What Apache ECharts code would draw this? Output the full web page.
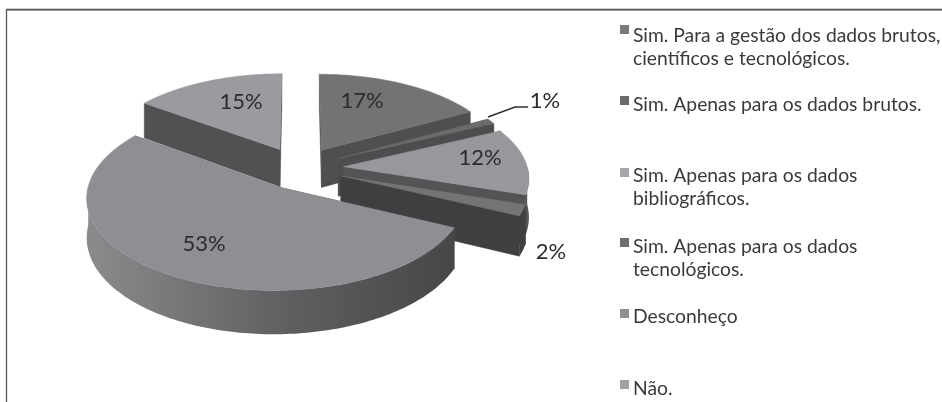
<!DOCTYPE html>
<html><head><meta charset="utf-8">
<style>html,body{margin:0;padding:0;background:#fff}#c{width:942px;height:402px}</style>
<script src="https://cdn.jsdelivr.net/npm/echarts@6/dist/echarts.min.js"></script>
</head><body><div id="c"></div>
<script>
const categories = [
  'Sim. Para a gestão dos dados brutos,\ncientíficos e tecnológicos.',
  'Sim. Apenas para os dados brutos.',
  'Sim. Apenas para os dados\nbibliográficos.',
  'Sim. Apenas para os dados\ntecnológicos.',
  'Desconheço',
  'Não.'
];
const values = [17, 1, 12, 2, 53, 15];
const topColors = ['#737376', '#6b6b6e', '#97989b', '#747477', '#8e8f92', '#9a9b9e'];
const wallColors = ['#4f4f51', '#4d4d4f', '#545456', '#3f3f41', '#505052', '#515153'];
const legendColors = ['#7a7a7d', '#6b6b6e', '#a5a6a9', '#6e6e71', '#8e8f92', '#a0a1a4'];
const legendIconTops = [25, 96, 168, 238, 309, 380];
const legendTextCenters = [36, 105, 176, 247, 317, 389];
const drawOrder = [5, 0, 1, 2, 3, 4];

// projection of the tilted pie
const P = {cx: 299.5, cy: 168, rx: 184, ry: 88, k: 0.11, depth: 38, explode: 0.24};
const total = values.reduce((a, b) => a + b, 0);
const starts = [];
values.reduce((acc, v, i) => { starts[i] = acc; return acc + v; }, 0);
const toAngle = v => v / total * 2 * Math.PI;

function project(X, Y, down) {
  const s = 1 / (1 - P.k * Y);
  return [P.cx + P.rx * X * s, P.cy + P.ry * Y * s + (down ? P.depth * s : 0)];
}
function sliceGeometry(i) {
  const a0 = toAngle(starts[i]), a1 = toAngle(starts[i] + values[i]), mid = (a0 + a1) / 2;
  const ox = Math.sin(mid) * P.explode, oy = -Math.cos(mid) * P.explode;
  const pt = (a, r, down) => project(ox + Math.sin(a) * r, oy - Math.cos(a) * r, down);
  return {a0, a1, mid, ox, oy, pt};
}
function arcPoints(g, from, to, down) {
  const n = Math.max(2, Math.ceil((to - from) / 0.02)), out = [];
  for (let j = 0; j <= n; j++) out.push(g.pt(from + (to - from) * j / n, 1, down));
  return out;
}
const labelPos = [[362, 101], [545, 101], [480, 158], [551, 252], [204, 244], [241, 102]];

function renderItemFor(i) {
  return function () {
    const g = sliceGeometry(i), children = [];
    const poly = (points, fill) => ({type: 'polygon', shape: {points}, style: {fill, stroke: fill, lineWidth: 0.5}});
    // radial walls
    [g.a0, g.a1].forEach(a => children.push(poly(
      [g.pt(a, 0, false), g.pt(a, 1, false), g.pt(a, 1, true), g.pt(a, 0, true)], wallColors[i])));
    // outer wall: only the part facing the viewer
    const from = Math.max(g.a0, Math.PI / 2), to = Math.min(g.a1, 3 * Math.PI / 2);
    if (to > from) {
      const up = arcPoints(g, from, to, false), low = arcPoints(g, from, to, true).reverse();
      const fill = i === 4
        ? {type: 'linear', x: 1, y: 0, x2: 0, y2: 0, colorStops: [{offset: 0, color: '#474749'}, {offset: 0.45, color: '#5f5f62'}, {offset: 1, color: '#8b8b8e'}]}
        : wallColors[i];
      children.push({type: 'polygon', shape: {points: up.concat(low)}, style: {fill}});
    }
    // top face
    children.push(poly([g.pt(0, 0, false)].concat(arcPoints(g, g.a0, g.a1, false)), topColors[i]));
    // value label
    children.push({type: 'text', x: labelPos[i][0], y: labelPos[i][1], z2: 100, style: {
      text: values[i] + '%', fill: '#2c2c2e', font: '22px Lato', align: 'center', verticalAlign: 'middle'}});
    if (i === 1) {
      children.push({type: 'polyline', z2: 100, shape: {points: [[488, 117], [515, 107], [528, 107]]},
        style: {stroke: '#303032', lineWidth: 1.6, fill: 'none'}});
    }
    return {type: 'group', children};
  };
}

const series = drawOrder.map(i => ({
  name: categories[i],
  type: 'custom',
  coordinateSystem: 'none',
  silent: true,
  z: 2,
  data: [values[i]],
  renderItem: renderItemFor(i)
}));

const legendGraphics = [];
categories.forEach((name, i) => {
  legendGraphics.push({type: 'rect', silent: true, shape: {x: 620, y: legendIconTops[i], width: 9, height: 9}, style: {fill: legendColors[i]}});
  const lines = name.split('\n');
  lines.forEach((line, j) => legendGraphics.push({
    type: 'text', silent: true, x: 633, y: legendTextCenters[i] + j * 22.5,
    style: {text: line, font: '19.3px Lato', fill: '#3a3a3c', align: 'left', verticalAlign: 'middle'}
  }));
});

const chart = echarts.init(document.getElementById('c'), null, {renderer: 'canvas'});
chart.setOption({
  animation: false,
  backgroundColor: '#ffffff',
  series,
  graphic: [
    {type: 'polyline', silent: true, shape: {points: [[6, 10.5], [942, 10.5]]}, style: {stroke: '#b4b4b4', lineWidth: 1, fill: 'none'}},
    {type: 'polyline', silent: true, shape: {points: [[6.5, 402], [6.5, 9.5], [942, 9.5]]}, style: {stroke: '#555555', lineWidth: 1.3, fill: 'none'}}
  ].concat(legendGraphics)
});
</script></body></html>
